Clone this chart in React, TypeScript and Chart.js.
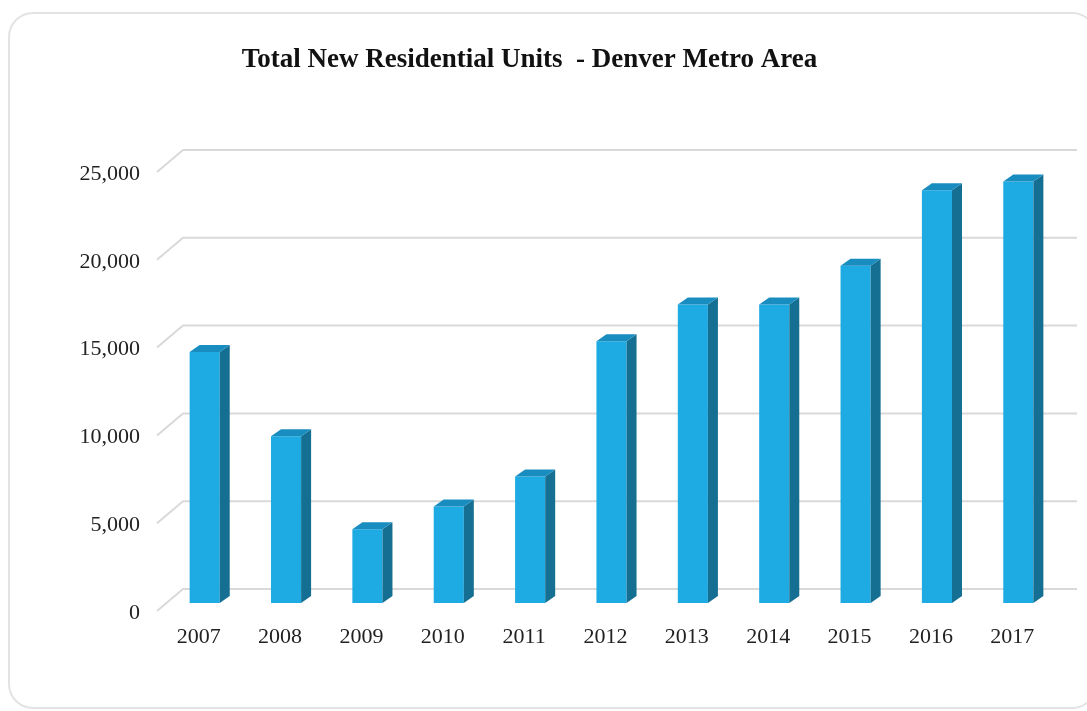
import React, { useEffect, useRef } from "react";
import { Chart, registerables } from "chart.js";

Chart.register(...registerables);

const titleText = "Total New Residential Units  - Denver Metro Area";
const years = ["2007", "2008", "2009", "2010", "2011", "2012", "2013", "2014", "2015", "2016", "2017"];
const units = [14300, 9500, 4200, 5500, 7200, 14900, 17000, 17000, 19200, 23500, 24000];
const yTicks = [0, 5000, 10000, 15000, 20000, 25000];

const FRONT = "#1eabe3";
const SIDE = "#156f92";
const TOP = "#1a8dc0";

const frame3d = {
  id: "frame3d",
  beforeDraw(chart: any) {
    const ctx = chart.ctx;
    ctx.save();
    ctx.strokeStyle = "#e3e3e3";
    ctx.lineWidth = 2;
    ctx.beginPath();
    ctx.roundRect(9, 13, 1087, 695, 24);
    ctx.stroke();
    ctx.restore();
  },
  beforeDatasetsDraw(chart: any) {
    const ctx = chart.ctx;
    const ys = chart.scales.y;
    const left = chart.chartArea.left;
    ctx.save();
    ctx.strokeStyle = "#d9d9d9";
    ctx.lineWidth = 2;
    yTicks.forEach((v) => {
      const y = ys.getPixelForValue(v);
      const yb = y - 14;
      ctx.beginPath();
      ctx.moveTo(left - 7, y + 8);
      ctx.lineTo(left + 19, yb);
      ctx.lineTo(1077, yb);
      ctx.stroke();
    });
    ctx.restore();
  },
  afterDatasetsDraw(chart: any) {
    const ctx = chart.ctx;
    const meta = chart.getDatasetMeta(0);
    const dx = 10;
    const dy = -7;
    ctx.save();
    meta.data.forEach((bar: any) => {
      const { x, y, base, width } = bar.getProps(["x", "y", "base", "width"], true);
      const l = x - width / 2;
      const r = x + width / 2;
      ctx.fillStyle = SIDE;
      ctx.beginPath();
      ctx.moveTo(r, y);
      ctx.lineTo(r + dx, y + dy);
      ctx.lineTo(r + dx, base + dy);
      ctx.lineTo(r, base);
      ctx.closePath();
      ctx.fill();
      ctx.fillStyle = TOP;
      ctx.beginPath();
      ctx.moveTo(l, y);
      ctx.lineTo(l + dx, y + dy);
      ctx.lineTo(r + dx, y + dy);
      ctx.lineTo(r, y);
      ctx.closePath();
      ctx.fill();
    });
    ctx.restore();
  },
};

export default function App() {
  const ref = useRef<HTMLCanvasElement>(null);
  useEffect(() => {
    if (!ref.current) return;
    const chart = new Chart(ref.current, {
      type: "bar",
      data: {
        labels: years,
        datasets: [
          {
            data: units,
            backgroundColor: FRONT,
            borderWidth: 0,
            barPercentage: 0.37,
            categoryPercentage: 1,
          },
        ],
      },
      options: {
        animation: false,
        responsive: true,
        maintainAspectRatio: false,
        layout: { padding: { left: 0, right: 28, top: 0, bottom: 0 } },
        plugins: {
          legend: { display: false },
          tooltip: { enabled: false },
          title: {
            display: true,
            text: titleText,
            color: "#111111",
            font: { family: "'Liberation Serif', 'Times New Roman', serif", size: 27, weight: "bold", lineHeight: 1.2 },
            padding: { top: 43.8, bottom: 87.8 },
          },
        },
        scales: {
          x: {
            grid: { display: false, drawTicks: false },
            border: { display: false },
            ticks: {
              color: "#222222",
              font: { family: "'Liberation Serif', 'Times New Roman', serif", size: 22 },
              padding: 21,
              labelOffset: -6,
              maxRotation: 0,
            },
            afterFit: (s: any) => {
              s.height = 108;
            },
          },
          y: {
            min: 0,
            max: 25000,
            grid: { display: false, drawTicks: false },
            border: { display: false },
            ticks: {
              stepSize: 5000,
              color: "#222222",
              font: { family: "'Liberation Serif', 'Times New Roman', serif", size: 22 },
              padding: 24,
              labelOffset: 10,
              callback: (v: any) => Number(v).toLocaleString("en-US"),
            },
            afterFit: (s: any) => {
              s.width = 164;
            },
          },
        },
      },
      plugins: [frame3d],
    });
    return () => chart.destroy();
  }, []);
  return (
    <div style={{ position: "fixed", left: 0, top: 0, width: 1087, height: 711, background: "#ffffff" }}>
      <canvas ref={ref} />
    </div>
  );
}
